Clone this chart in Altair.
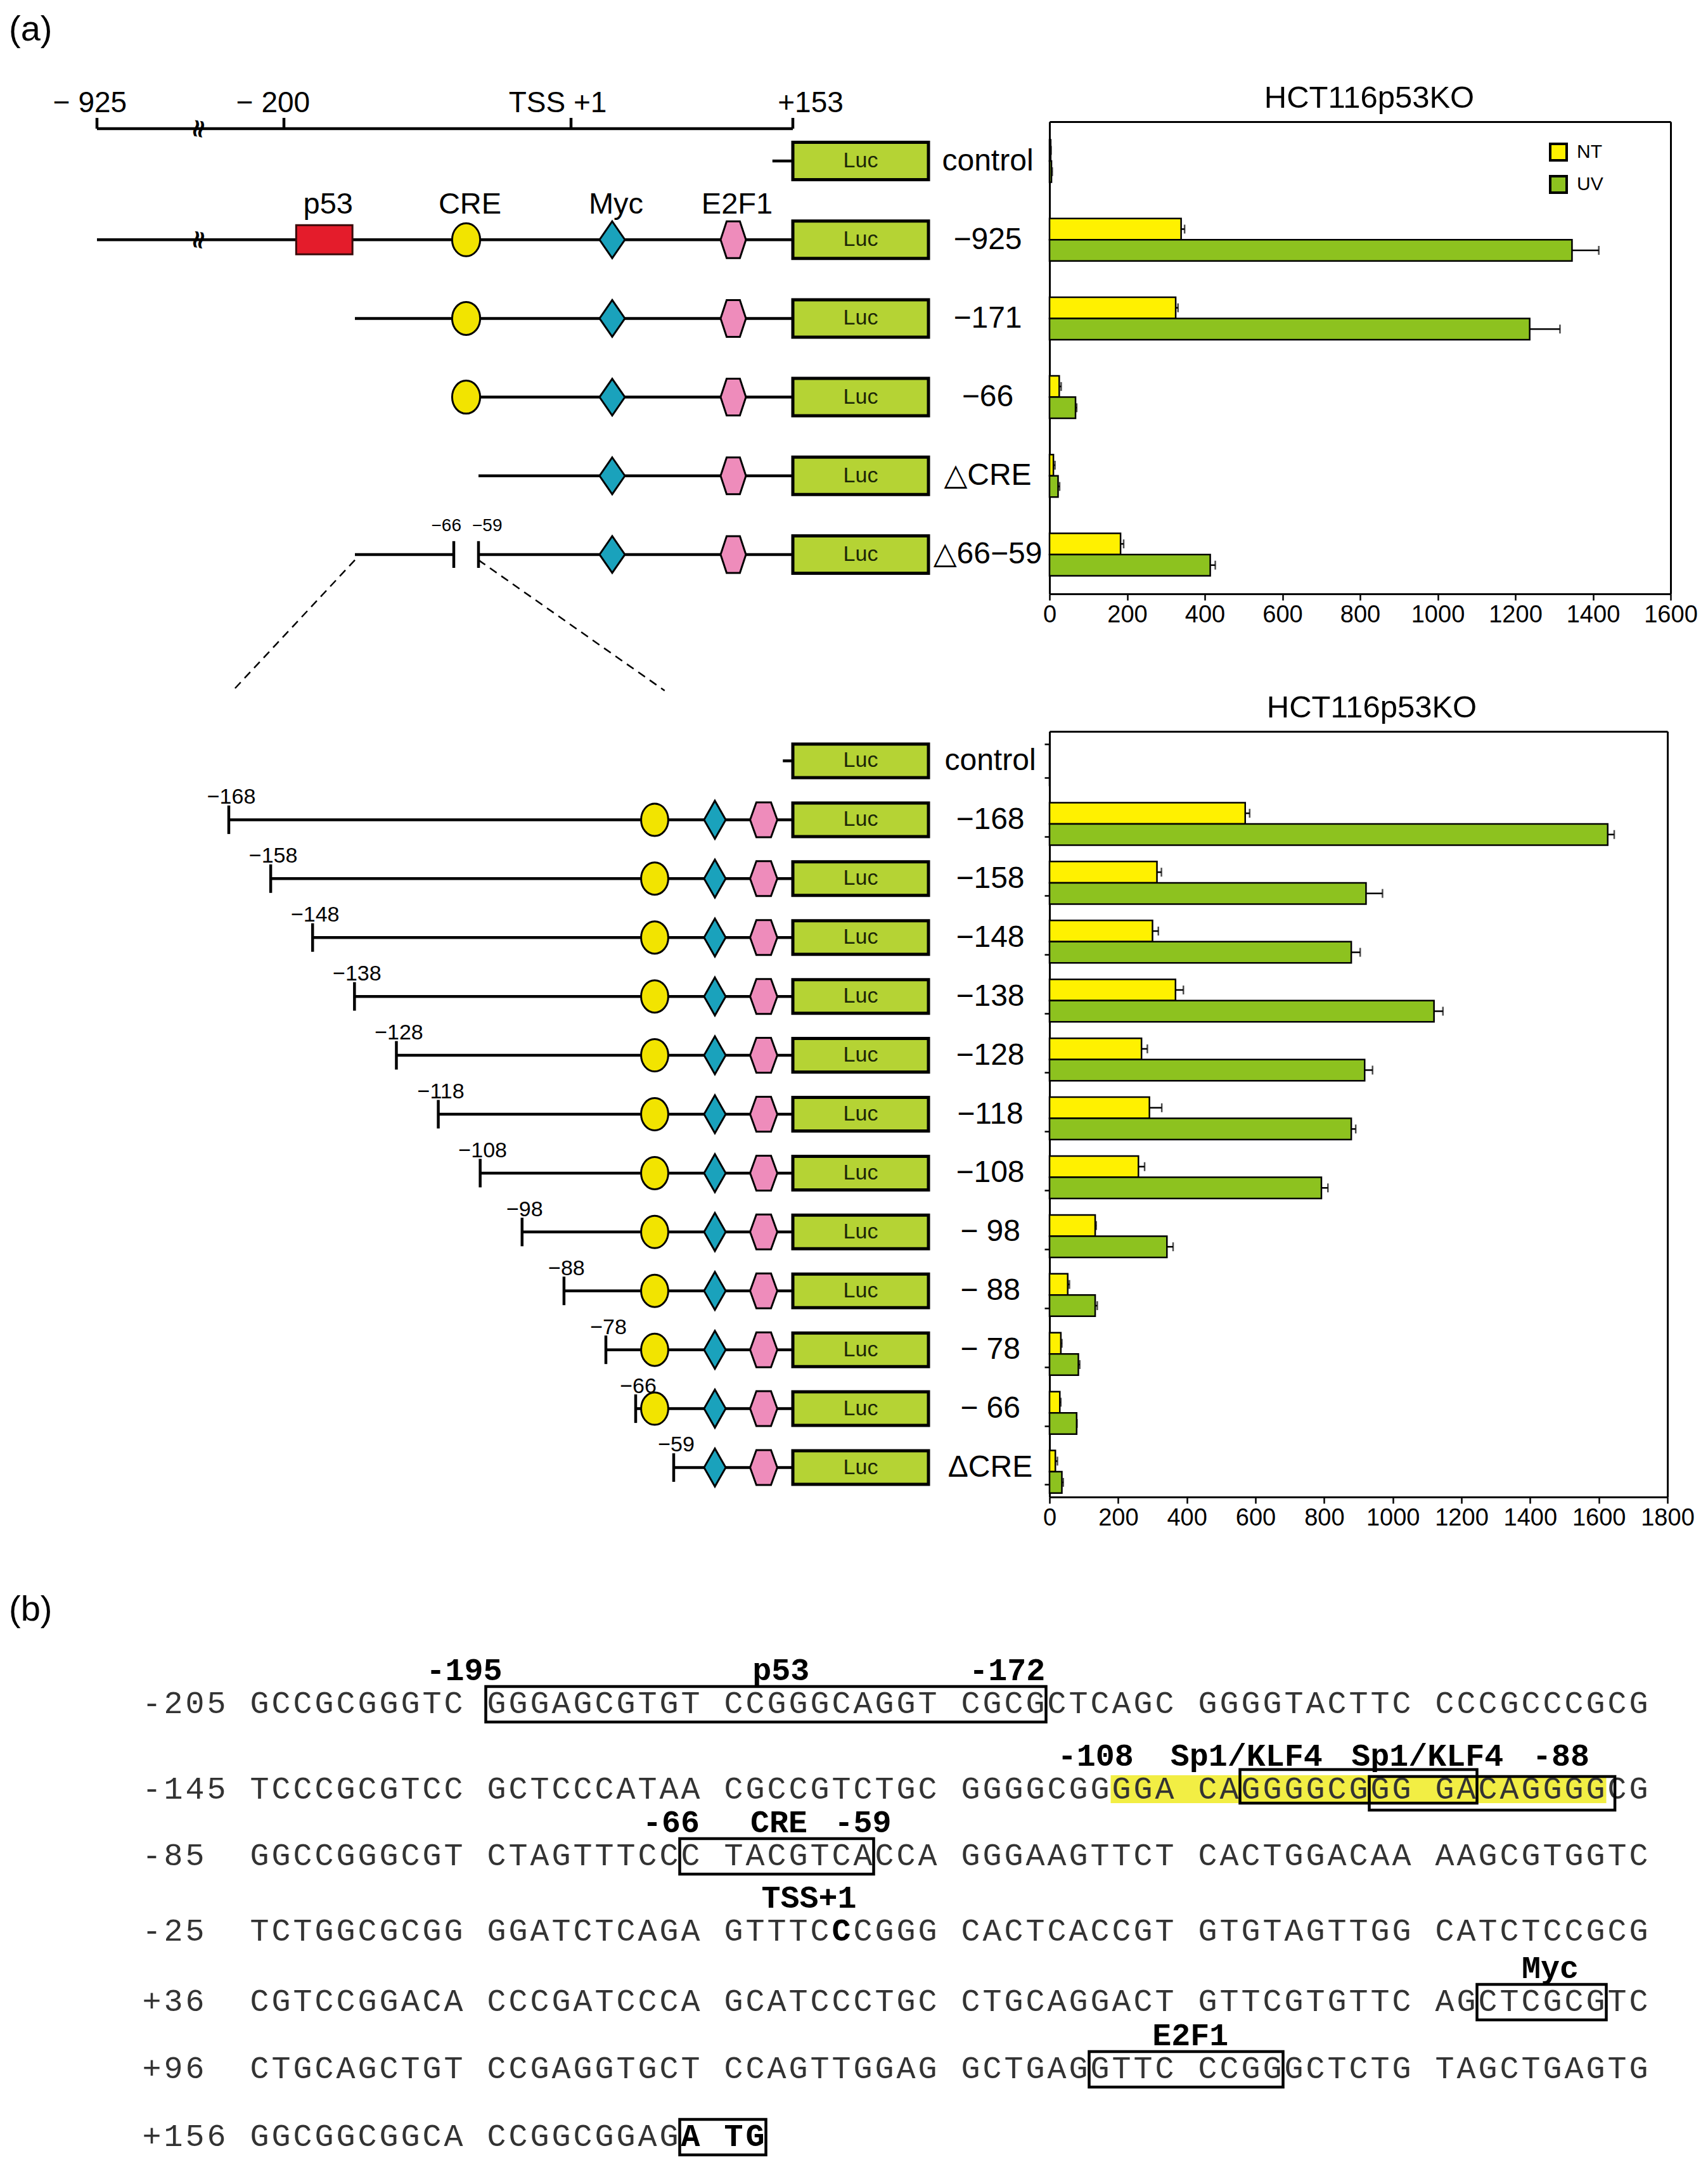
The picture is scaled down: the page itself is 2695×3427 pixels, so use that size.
import altair as alt
import pandas as pd

SANS = "Liberation Sans, Arial, DejaVu Sans, sans-serif"
MONO = "Liberation Mono, DejaVu Sans Mono, monospace"

NT_COLOR = "#FFF100"
UV_COLOR = "#8DC21F"
LUC_COLOR = "#B5D334"
CRE_COLOR = "#F2E400"
MYC_COLOR = "#1AA2BC"
E2F_COLOR = "#EE8CBB"
P53_COLOR = "#E41C2B"
HL_COLOR = "#F2EE44"

# ---------------- bar chart values ----------------
TREATMENTS = ["NT", "UV"]
TOP_ROWS = ["control", "\u2212925", "\u2212171", "\u221266", "\u25b3CRE", "\u25b366\u221259"]
TOP_NT = [3, 339, 325, 25, 10, 183]
TOP_NT_ERR = [1, 9, 6, 5, 4, 8]
TOP_UV = [5, 1346, 1237, 67, 22, 414]
TOP_UV_ERR = [2, 69, 78, 3, 4, 13]

BOT_ROWS = ["control", "\u2212168", "\u2212158", "\u2212148", "\u2212138", "\u2212128", "\u2212118",
            "\u2212108", "\u2212 98", "\u2212 88", "\u2212 78", "\u2212 66", "\u0394CRE"]
BOT_NT = [0, 570, 313, 300, 367, 268, 291, 259, 133, 53, 33, 30, 17]
BOT_NT_ERR = [0, 13, 13, 17, 23, 17, 36, 18, 3, 5, 3, 3, 6]
BOT_UV = [0, 1626, 922, 879, 1120, 918, 879, 792, 342, 133, 84, 79, 36]
BOT_UV_ERR = [0, 19, 48, 26, 26, 23, 13, 19, 18, 6, 4, 1, 4]

# ---------------- promoter constructs (bp) ----------------
LUC = (153, 246)
P53_SITE = (-195, -172)
CRE_SITE = -62.5
MYC_SITE = 90.5
E2F1_SITE = 135.5
TOP_START = [147, -925, -171, -66, -59, -171]
TOP_DEL_ROW = 5
TOP_DELETION = (-66, -59)
TOP_CRE_ROWS = [1, 2, 3]
TOP_TF_ROWS = [1, 2, 3, 4, 5]
TOP_BREAK = -532
SCALE_TICKS = [-925, -200, 1, 153]
SCALE_TEXT = ["\u2212 925", "\u2212 200", "TSS +1", "+153"]
SITE_TEXT = ["p53", "CRE", "Myc", "E2F1"]
ZOOM_FROM = [-171, -59]
ZOOM_TO = [-398, 110]

BOT_START = [147, -168, -158, -148, -138, -128, -118, -108, -98, -88, -78, -66, -59]
BOT_START_TEXT = ["", "\u2212168", "\u2212158", "\u2212148", "\u2212138", "\u2212128", "\u2212118",
                  "\u2212108", "\u221298", "\u221288", "\u221278", "\u221266", "\u221259"]
BOT_CRE_ROWS = list(range(1, 12))
BOT_TF_ROWS = list(range(1, 13))

# ---------------- sequence (b) ----------------
SEQ_LABELS = ["-205", "-145", "-85", "-25", "+36", "+96", "+156"]
SEQ_LINES = [
    "GCCGCGGGTC GGGAGCGTGT CCGGGCAGGT CGCGCTCAGC GGGGTACTTC CCCGCCCGCG",
    "TCCCGCGTCC GCTCCCATAA CGCCGTCTGC GGGGCGGGGA CAGGGGCGGG GACAGGGGCG",
    "GGCCGGGCGT CTAGTTTCCC TACGTCACCA GGGAAGTTCT CACTGGACAA AAGCGTGGTC",
    "TCTGGCGCGG GGATCTCAGA GTTTCCCGGG CACTCACCGT GTGTAGTTGG CATCTCCGCG",
    "CGTCCGGACA CCCGATCCCA GCATCCCTGC CTGCAGGACT GTTCGTGTTC AGCTCGCGTC",
    "CTGCAGCTGT CCGAGGTGCT CCAGTTGGAG GCTGAGGTTC CCGGGCTCTG TAGCTGAGTG",
    "GGCGGCGGCA CCGGCGGAGA TG",
]
SEQ_BOLD_POS = [1, 175, 176, 177]
SEQ_BOXES = [(-195, -172), (-66, -59), (88, 93), (132, 139), (175, 177)]
SP1_BOXES = [(-103, -94), (-97, -88)]
SP1_HIGHLIGHT = (-108, -88)
ANN_TEXT = ["-195", "p53", "-172", "-108", "Sp1/KLF4", "Sp1/KLF4", "-88",
            "-66", "CRE", "-59", "TSS+1", "Myc", "E2F1"]
ANN_LINE = [0, 0, 0, 1, 1, 1, 1, 2, 2, 2, 3, 4, 5]
ANN_COL = [14.5, 29.2, 39.7, 43.8, 50.8, 59.2, 65.4, 24.1, 29.1, 33.0, 30.5, 64.9, 48.2]

# ---------------- layout (pixels) ----------------
ROW1_W, ROW1_H = 2622, 745
ROW2_W, ROW2_H = 2617, 1208
ROW3_W, ROW3_H = 2622, 840
ROW_GAP = 217
TOP_BAR_RANGE = [1642, 2622]
BOT_BAR_RANGE = [1642, 2617]
TOP_X_DOMAIN = [-925, -200, -171, -66, -59, 1, 90.5, 135.5, 153, 246]
TOP_X_RANGE = [139, 434, 546, 702, 741, 887, 952, 1143, 1237, 1451]
BOT_X_DOMAIN = [-168, -78, -66, -59, 90.5, 135.5, 153, 246]
BOT_X_RANGE = [347, 942, 989, 1049, 1114, 1191, 1237, 1451]
SEQ_LINE_Y = [109, 244, 349, 468, 579, 685, 792]
SEQ_X = (225.5, 34.0)

LINE_W = 4.5


def ellipse(r):
    return f"M{-r},0 A{r},1 0 1,0 {r},0 A{r},1 0 1,0 {-r},0 Z"


def diamond(r):
    return f"M0,-1 L{r},0 L0,1 L{-r},0 Z"


def hexagon(r, f):
    return f"M{-r},0 L{-f},-1 L{f},-1 L{r},0 L{f},1 L{-f},1 Z"


def qx(field, xs):
    return alt.X(field, type="quantitative", scale=xs, axis=None)


def qy(field, ys):
    return alt.Y(field, type="quantitative", scale=ys, axis=None)


def rules(df, xs, ys, **kw):
    enc = dict(x=qx("x1", xs), y=qy("y1", ys))
    if "x2" in df:
        enc["x2"] = alt.X2("x2")
    if "y2" in df:
        enc["y2"] = alt.Y2("y2")
    style = dict(color="black", strokeWidth=LINE_W)
    style.update(kw)
    return alt.Chart(df).mark_rule(**style).encode(**enc)


def sites(rows, pos, path, size, fill, xs, ys):
    df = pd.DataFrame({"row": rows, "bp": [pos] * len(rows)})
    return alt.Chart(df).mark_point(shape=path, size=size, filled=True, fill=fill, stroke="black",
                                    strokeWidth=3, opacity=1).encode(x=qx("bp", xs), y=qy("row", ys))


def luc_boxes(n, half, xs, ys):
    df = pd.DataFrame({"row": list(range(n))})
    df["x1"], df["x2"] = LUC
    df["y1"] = df["row"] - half
    df["y2"] = df["row"] + half
    df["xm"] = (LUC[0] + LUC[1]) / 2
    box = alt.Chart(df).mark_rect(fill=LUC_COLOR, stroke="black", strokeWidth=5).encode(
        x=qx("x1", xs), x2="x2", y=qy("y1", ys), y2="y2")
    txt = alt.Chart(df).mark_text(text="Luc", font=SANS, fontSize=34, color="#1b2607").encode(
        x=qx("xm", xs), y=qy("row", ys))
    return [box, txt]


def bar_block(rows, nt, nte, uv, uve, xmax, xrange, pad_inner, tick_size, legend_xy, label_pad, title_x):
    recs = []
    for r, a, ae, b, be in zip(rows, nt, nte, uv, uve):
        recs.append({"row": r, "treat": "NT", "value": a, "err": ae})
        recs.append({"row": r, "treat": "UV", "value": b, "err": be})
    df = pd.DataFrame(recs)
    df["hi"] = df["value"] + df["err"]
    xs = alt.Scale(domain=[0, xmax], range=xrange, nice=False, zero=False)
    ys = alt.Scale(domain=rows, paddingInner=pad_inner, paddingOuter=pad_inner / 2)
    offs = alt.Scale(domain=TREATMENTS, paddingInner=0, paddingOuter=0)
    yoff = alt.YOffset("treat:N", scale=offs, sort=TREATMENTS)
    cs = alt.Scale(domain=TREATMENTS, range=[NT_COLOR, UV_COLOR])
    bars = alt.Chart(df).mark_bar(stroke="black", strokeWidth=2.5, opacity=1).encode(
        x=alt.X("value:Q", scale=xs, axis=alt.Axis(
            orient="bottom", title=None, values=list(range(0, xmax + 1, 200)), format="d",
            labelFont=SANS, labelFontSize=38, labelColor="black", labelPadding=4, labelFlush=False,
            tickSize=10, tickWidth=2.5, tickColor="black", domainColor="black", domainWidth=3, grid=False)),
        y=alt.Y("row:N", scale=ys, sort=rows, axis=alt.Axis(
            orient="left", offset=-xrange[0], title=None, labelFont=SANS, labelFontSize=48,
            labelColor="black", labelAlign="center", labelPadding=label_pad, labelLimit=1000,
            ticks=True, tickSize=tick_size, tickWidth=2.5, tickColor="black", tickBand="extent",
            domainColor="black", domainWidth=3, grid=False)),
        yOffset=yoff,
        color=alt.Color("treat:N", scale=cs, legend=alt.Legend(
            title=None, orient="none", legendX=legend_xy[0], legendY=legend_xy[1], symbolType="square",
            symbolSize=676, symbolStrokeColor="black", symbolStrokeWidth=4, labelFont=SANS,
            labelFontSize=30, labelColor="black", labelOffset=14, rowPadding=9, padding=0)),
    )
    whisk = alt.Chart(df).mark_rule(color="black", strokeWidth=2.5).encode(
        x=alt.X("value:Q", scale=xs, axis=alt.Axis(
            orient="top", title="HCT116p53KO", labels=False, ticks=False, domainColor="black",
            domainWidth=3, grid=False, titleFont=SANS, titleFontSize=49, titleFontWeight="normal",
            titleColor="black", titlePadding=13, titleX=title_x)),
        x2="hi:Q",
        y=alt.Y("row:N", scale=ys, sort=rows, axis=alt.Axis(
            orient="right", title=None, labels=False, ticks=False, domainColor="black",
            domainWidth=3, grid=False)),
        yOffset=yoff,
    )
    caps = alt.Chart(df[df["err"] > 0]).mark_tick(color="black", thickness=2.5, size=14,
                                                  orient="vertical").encode(
        x=alt.X("hi:Q", scale=xs, axis=None),
        y=alt.Y("row:N", scale=ys, sort=rows, axis=None),
        yOffset=yoff,
    )
    return alt.layer(bars, whisk, caps)


# ================= row 1 : upper constructs =================
n1 = len(TOP_ROWS)
step1 = ROW1_H / n1
xs1 = alt.Scale(domain=TOP_X_DOMAIN, range=TOP_X_RANGE, zero=False, nice=False)
ys1 = alt.Scale(domain=[-0.5, n1 - 0.5], range=[0, ROW1_H], zero=False, nice=False)
SCALE_ROW = 11 / step1 - 0.5
TICK_LEN = 17 / step1

lines1 = []
for r, s in enumerate(TOP_START):
    if r == TOP_DEL_ROW:
        lines1.append({"x1": s, "x2": TOP_DELETION[0], "y1": r})
        lines1.append({"x1": TOP_DELETION[1], "x2": LUC[0], "y1": r})
    else:
        lines1.append({"x1": s, "x2": LUC[0], "y1": r})
lines1.append({"x1": SCALE_TICKS[0], "x2": SCALE_TICKS[-1], "y1": SCALE_ROW})
lines1 = pd.DataFrame(lines1)

vt1 = pd.DataFrame(
    [{"x1": t, "y1": SCALE_ROW, "y2": SCALE_ROW - TICK_LEN} for t in SCALE_TICKS]
    + [{"x1": d, "y1": TOP_DEL_ROW - 0.17, "y2": TOP_DEL_ROW + 0.17} for d in TOP_DELETION])

zoom = pd.DataFrame({"x1": ZOOM_FROM, "x2": ZOOM_TO, "y1": [TOP_DEL_ROW + 0.07] * 2,
                     "y2": [TOP_DEL_ROW + 1.73] * 2})

p53 = pd.DataFrame({"x1": [P53_SITE[0]], "x2": [P53_SITE[1]], "y1": [1 - 0.185], "y2": [1 + 0.185]})

diag1 = [
    rules(lines1, xs1, ys1),
    rules(vt1, xs1, ys1),
    rules(zoom, xs1, ys1, strokeWidth=2.5, strokeDash=[13, 9]),
    alt.Chart(pd.DataFrame({"bp": [TOP_BREAK] * 2, "row": [1, SCALE_ROW]})).mark_text(
        text="\u2248", angle=100, fontSize=40, fontWeight="bold", font="DejaVu Sans",
        color="black").encode(x=qx("bp", xs1), y=qy("row", ys1)),
    alt.Chart(p53).mark_rect(fill=P53_COLOR, stroke="#3a0a0a", strokeWidth=3).encode(
        x=qx("x1", xs1), x2="x2", y=qy("y1", ys1), y2="y2"),
    sites(TOP_CRE_ROWS, CRE_SITE, ellipse(0.85), 52 * 52, CRE_COLOR, xs1, ys1),
    sites(TOP_TF_ROWS, MYC_SITE, diamond(0.69), 58 * 58, MYC_COLOR, xs1, ys1),
    sites(TOP_TF_ROWS, E2F1_SITE, hexagon(0.69, 0.36), 58 * 58, E2F_COLOR, xs1, ys1),
] + luc_boxes(n1, 29.5 / step1, xs1, ys1)

site_df = pd.DataFrame({"bp": [sum(P53_SITE) / 2, CRE_SITE, MYC_SITE, E2F1_SITE],
                        "txt": SITE_TEXT, "row": [1 - 0.33] * 4})
diag1.append(alt.Chart(site_df).mark_text(font=SANS, fontSize=47, baseline="alphabetic", dx=6,
                                          color="black").encode(
    x=qx("bp", xs1), y=qy("row", ys1), text="txt:N"))
for t, lab, dx in zip(SCALE_TICKS, SCALE_TEXT, [-11, -17, -21, 28]):
    diag1.append(alt.Chart(pd.DataFrame({"bp": [t], "row": [SCALE_ROW - TICK_LEN - 0.07], "txt": [lab]}))
                 .mark_text(font=SANS, fontSize=46, baseline="alphabetic", dx=dx, color="black")
                 .encode(x=qx("bp", xs1), y=qy("row", ys1), text="txt:N"))
for d, al, dx in zip(TOP_DELETION, ["right", "left"], [12, -10]):
    diag1.append(alt.Chart(pd.DataFrame({"bp": [d], "row": [TOP_DEL_ROW - 0.3],
                                         "txt": ["\u2212" + str(-d)]}))
                 .mark_text(font=SANS, fontSize=28, baseline="alphabetic", align=al, dx=dx, color="black")
                 .encode(x=qx("bp", xs1), y=qy("row", ys1), text="txt:N"))

row1 = alt.layer(
    alt.layer(*diag1),
    bar_block(TOP_ROWS, TOP_NT, TOP_NT_ERR, TOP_UV, TOP_UV_ERR, 1600, TOP_BAR_RANGE, 0.46, 0,
              (2430, 33), 98, 2146),
).resolve_scale(x="independent", y="independent").properties(
    width=ROW1_W, height=ROW1_H,
    title=alt.TitleParams("(a)", anchor="start", frame="group", font=SANS, fontSize=56,
                          fontWeight="normal", color="black", offset=54))

# ================= row 2 : deletion series =================
n2 = len(BOT_ROWS)
step2 = ROW2_H / n2
xs2 = alt.Scale(domain=BOT_X_DOMAIN, range=BOT_X_RANGE, zero=False, nice=False)
ys2 = alt.Scale(domain=[-0.5, n2 - 0.5], range=[0, ROW2_H], zero=False, nice=False)

lines2 = pd.DataFrame({"x1": BOT_START, "x2": [LUC[0]] * n2, "y1": list(range(n2))})
half_t = 22.5 / step2
vt2 = pd.DataFrame({"x1": BOT_START[1:], "y1": [r - half_t for r in range(1, n2)],
                    "y2": [r + half_t for r in range(1, n2)]})
lab2 = pd.DataFrame({"bp": BOT_START[1:], "row": [r - 0.27 for r in range(1, n2)],
                     "txt": BOT_START_TEXT[1:]})

diag2 = [
    rules(lines2, xs2, ys2),
    rules(vt2, xs2, ys2),
    sites(BOT_CRE_ROWS, CRE_SITE, ellipse(0.84), 51 * 51, CRE_COLOR, xs2, ys2),
    sites(BOT_TF_ROWS, MYC_SITE, diamond(0.57), 60 * 60, MYC_COLOR, xs2, ys2),
    sites(BOT_TF_ROWS, E2F1_SITE, hexagon(0.78, 0.42), 55 * 55, E2F_COLOR, xs2, ys2),
    alt.Chart(lab2).mark_text(font=SANS, fontSize=34, baseline="alphabetic", dx=4, color="black").encode(
        x=qx("bp", xs2), y=qy("row", ys2), text="txt:N"),
] + luc_boxes(n2, 26.5 / step2, xs2, ys2)

row2 = alt.layer(
    alt.layer(*diag2),
    bar_block(BOT_ROWS, BOT_NT, BOT_NT_ERR, BOT_UV, BOT_UV_ERR, 1800, BOT_BAR_RANGE, 0.42, 8,
              (2422, 26), 86, 2150),
).resolve_scale(x="independent", y="independent").properties(width=ROW2_W, height=ROW2_H)


# ================= row 3 : sequence =================
def seq_index(pos):
    idx = pos + 205 if pos < 0 else pos + 204
    line, k = divmod(idx, 60)
    return line, 5 + k + k // 10


bold_set = {seq_index(p) for p in SEQ_BOLD_POS}
chars = []
for li, (lab, seq) in enumerate(zip(SEQ_LABELS, SEQ_LINES)):
    full = lab.ljust(5) + seq
    for j, ch in enumerate(full):
        if ch != " ":
            chars.append({"line": li, "col": j, "ch": ch, "bold": (li, j) in bold_set})
chars = pd.DataFrame(chars)

seq_y_dom, seq_y_rng = [], []
for i, yv in enumerate(SEQ_LINE_Y):
    seq_y_dom += [i - 0.45, i, i + 0.45]
    seq_y_rng += [yv - 45, yv, yv + 45]
xs3 = alt.Scale(domain=[0, 70], range=[SEQ_X[0], SEQ_X[0] + 70 * SEQ_X[1]], zero=False, nice=False)
ys3 = alt.Scale(domain=seq_y_dom, range=seq_y_rng, zero=False, nice=False)


def seq_rect(a, b, up, dn, pad_r=0.0):
    la, ca = seq_index(a)
    lb, cb = seq_index(b)
    return {"x1": ca - 0.5, "x2": cb + 0.5 + pad_r, "y1": la - up, "y2": la + dn}


boxes = pd.DataFrame([seq_rect(a, b, 0.27, 0.29) for a, b in SEQ_BOXES]
                     + [seq_rect(*SP1_BOXES[0], 0.31, 0.22), seq_rect(*SP1_BOXES[1], 0.20, 0.33, 0.4)])
hl = pd.DataFrame([seq_rect(*SP1_HIGHLIGHT, 0.22, 0.22)])
ann = pd.DataFrame({"txt": ANN_TEXT, "col": ANN_COL, "y": [l - 0.37 for l in ANN_LINE]})

row3 = alt.layer(
    alt.Chart(hl).mark_rect(fill=HL_COLOR).encode(x=qx("x1", xs3), x2="x2", y=qy("y1", ys3), y2="y2"),
    alt.Chart(chars[~chars["bold"]]).mark_text(font=MONO, fontSize=50, color="#333333").encode(
        x=qx("col", xs3), y=qy("line", ys3), text="ch:N"),
    alt.Chart(chars[chars["bold"]]).mark_text(font=MONO, fontSize=50, fontWeight="bold",
                                               color="black").encode(
        x=qx("col", xs3), y=qy("line", ys3), text="ch:N"),
    alt.Chart(boxes).mark_rect(filled=False, color="black", strokeWidth=4.5).encode(
        x=qx("x1", xs3), x2="x2", y=qy("y1", ys3), y2="y2"),
    alt.Chart(ann).mark_text(font=MONO, fontSize=50, fontWeight="bold", baseline="alphabetic",
                             color="black").encode(x=qx("col", xs3), y=qy("y", ys3), text="txt:N"),
).properties(width=ROW3_W, height=ROW3_H,
             title=alt.TitleParams("(b)", anchor="start", frame="group", font=SANS, fontSize=56,
                                   fontWeight="normal", color="black", offset=10))

chart = alt.vconcat(row1, row2, row3, spacing=ROW_GAP, bounds="flush").properties(
    padding={"left": 5, "top": 10, "right": 5, "bottom": 5}
).configure_view(stroke="transparent")

chart.save("out.html", embed_options={"renderer": "svg", "actions": False})
